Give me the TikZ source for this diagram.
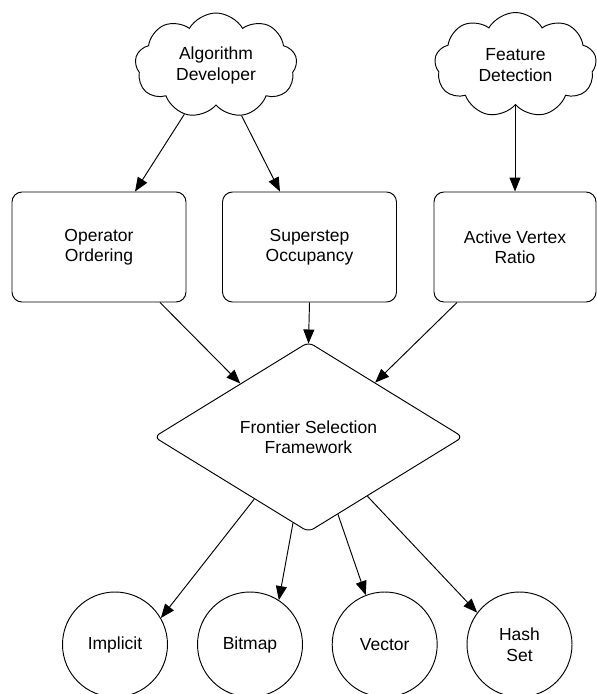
\documentclass[tikz,border=0pt]{standalone}
\usepackage{fontspec}
\setmainfont{Liberation Sans}
\usepackage{tikz}
\usetikzlibrary{shapes.symbols}
\usetikzlibrary{shapes.geometric}
\usetikzlibrary{arrows.meta}
\usetikzlibrary{calc}

\begin{document}
\begin{tikzpicture}[x=1pt,y=1pt,line width=0.95pt,
    font=\fontsize{17.5}{20.5}\selectfont,
    idea/.style={draw,cloud,cloud puffs=9,cloud puff arc=120,
      cloud ignores aspect,minimum width=162pt,minimum height=105pt,
      inner sep=0pt,align=center},
    metric/.style={draw,rectangle,rounded corners=10pt,
      minimum width=174pt,minimum height=110pt,align=center},
    choice/.style={draw,diamond,rounded corners=6pt,
      minimum width=309pt,minimum height=190pt,inner sep=0pt,align=center},
    store/.style={draw,circle,minimum size=105pt,inner sep=0pt,align=center},
    edge/.style={-{Triangle[length=14pt,width=11pt]}}]
  \useasboundingbox (0,0) rectangle (597,-694);

  %clouds
  \node[idea] (algo) at (216,-65.5) {Algorithm\\Developer};
  \node[idea] (feat) at (515.5,-65) {Feature\\Detection};

  %boxes
  \node[metric] (order) at (99,-247) {Operator\\Ordering};
  \node[metric] (occup) at (309.5,-247) {Superstep\\Occupancy};
  \node[metric,minimum width=162pt] (ratio) at (515,-247) {Active Vertex\\Ratio};

  %framework
  \node[choice] (frame) at (308.5,-437) {Frontier Selection\\Framework};

  %frontiers
  \node[store] (impl) at (115,-644.5) {Implicit};
  \node[store] (bmap) at (250,-644.5) {Bitmap};
  \node[store] (vect) at (384.7,-644.5) {Vector};
  \node[store] (hset) at (519.5,-644.5) {Hash\\Set};

  %top arrows
  \draw[edge]
    (algo.237)
    --
    ([xshift=36pt]order.north);
  \draw[edge]
    (algo.297)
    --
    ([xshift=-29.5pt]occup.north);
  \draw[edge]
    (feat.south -| ratio.north)
    --
    (ratio.north);

  %middle arrows
  \draw[edge]
    ([xshift=61pt]order.south)
    --
    ($(frame.north)!0.44!(frame.west)$);
  \draw[edge]
    (occup.south)
    --
    ([yshift=-2pt]frame.north);
  \draw[edge]
    ([xshift=-58pt]ratio.south)
    --
    ($(frame.north)!0.43!(frame.east)$);

  %bottom arrows
  \draw[edge]
    ($(frame.south)!0.35!(frame.west)$)
    --
    (impl.30);
  \draw[edge]
    ($(frame.south)!0.1!(frame.west)$)
    --
    (bmap.57);
  \draw[edge]
    ($(frame.south)!0.19!(frame.east)$)
    --
    (vect.111);
  \draw[edge]
    ($(frame.south)!0.38!(frame.east)$)
    --
    (hset.143);
\end{tikzpicture}
\end{document}
